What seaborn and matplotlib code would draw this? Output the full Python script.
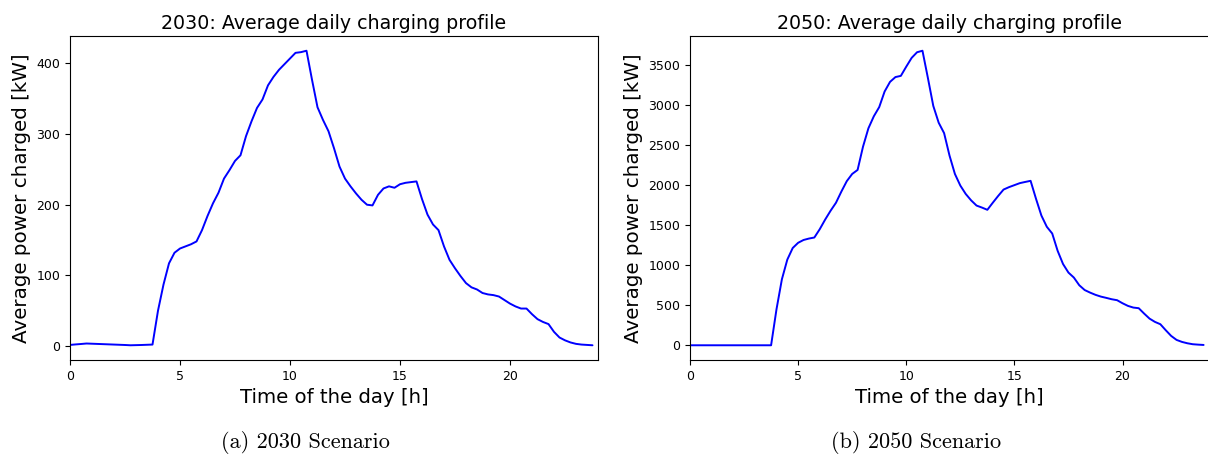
import numpy as np
import pandas as pd
import matplotlib
matplotlib.use("Agg")
import matplotlib.pyplot as plt
import seaborn as sns

# Quarter-hour time steps over one day
hours = np.arange(0, 24, 0.25)

# Average charging power per quarter hour, 2030 scenario [kW]
power_2030 = [
    1.5, 2.2, 2.8, 3.5, 3.2, 2.9, 2.6, 2.3,
    2.0, 1.7, 1.4, 1.0, 1.2, 1.4, 1.7, 2.0,
    50, 87, 117, 132, 138, 141, 144, 148,
    164, 184, 202, 217, 237, 249, 262, 270,
    297, 318, 337, 349, 369, 381, 391, 399,
    407, 415, 416, 418, 377, 338, 320, 304,
    280, 254, 237, 226, 216, 207, 200, 199,
    214, 223, 226, 224, 229, 231, 232, 233,
    208, 186, 172, 164, 141, 122, 110, 99,
    89, 83, 80, 75, 73, 72, 70, 65,
    60, 56, 53, 53, 45, 38, 34, 31,
    20, 12, 8, 5, 3, 2, 1.5, 1,
]

# Average charging power per quarter hour, 2050 scenario [kW]
power_2050 = [
    0, 0, 0, 0, 0, 0, 0, 0,
    0, 0, 0, 0, 0, 0, 0, 0,
    450, 825, 1070, 1215, 1280, 1315, 1333, 1346,
    1450, 1570, 1680, 1780, 1920, 2050, 2140, 2190,
    2480, 2710, 2860, 2975, 3170, 3290, 3350, 3365,
    3480, 3590, 3660, 3679, 3340, 2990, 2780, 2650,
    2370, 2140, 1995, 1890, 1810, 1745, 1720, 1692,
    1780, 1865, 1945, 1975, 2000, 2025, 2040, 2054,
    1830, 1620, 1480, 1396, 1180, 1015, 908, 846,
    750, 690, 658, 630, 608, 592, 575, 563,
    525, 492, 471, 463, 396, 333, 292, 263,
    188, 117, 67, 42, 25, 13, 8, 4,
]

titles = ["2030: Average daily charging profile", "2050: Average daily charging profile"]
captions = ["(a) 2030 Scenario", "(b) 2050 Scenario"]
x_label = "Time of the day [h]"
y_label = "Average power charged [kW]"

sns.set_theme(style="ticks", rc={
    "axes.edgecolor": "black",
    "axes.linewidth": 0.8,
    "axes.labelcolor": "black",
    "text.color": "black",
    "xtick.color": "black",
    "ytick.color": "black",
    "xtick.major.size": 3.5,
    "ytick.major.size": 3.5,
    "xtick.major.width": 0.8,
    "ytick.major.width": 0.8,
})
plt.rcParams["font.family"] = ["DejaVu Sans"]

fig = plt.figure(figsize=(12.08, 4.57), dpi=100)
ax_a = fig.add_axes([70 / 1208, 1 - 360 / 457, 528 / 1208, 324 / 457])
ax_b = fig.add_axes([690 / 1208, 1 - 360 / 457, 519 / 1208, 324 / 457])

for ax, values, title in zip([ax_a, ax_b], [power_2030, power_2050], titles):
    df = pd.DataFrame({"hour": hours, "power": values})
    sns.lineplot(data=df, x="hour", y="power", ax=ax, color="blue", linewidth=1.4)
    ax.set_xlim(0, 24)
    ax.set_title(title, fontsize=13.7, pad=5, color="black")
    ax.set_xlabel(x_label, fontsize=14.2, labelpad=4)
    ax.set_ylabel(y_label, fontsize=14.3, labelpad=4)
    ax.tick_params(labelsize=9)

fig.text(305 / 1208, 1 - 443 / 457, captions[0], ha="center", va="center",
         family="cmr10", fontsize=16)
fig.text(916 / 1208, 1 - 443 / 457, captions[1], ha="center", va="center",
         family="cmr10", fontsize=16)

fig.savefig("out.png", dpi=100)
